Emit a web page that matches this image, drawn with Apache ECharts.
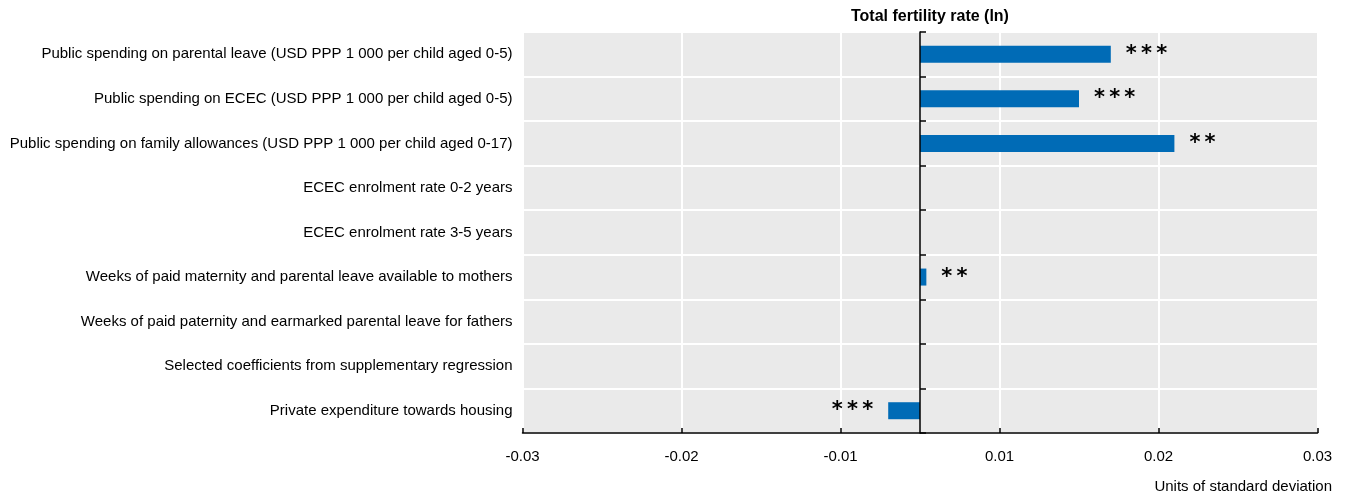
<!DOCTYPE html>
<html>
<head>
<meta charset="utf-8">
<script src="https://cdn.jsdelivr.net/npm/echarts@6/dist/echarts.min.js"></script>
<style>
  html, body { margin: 0; padding: 0; background: #fff; }
  #chart { width: 1349px; height: 498px; }
</style>
</head>
<body>
<div id="chart"></div>
<script>
// Policy indicators, top to bottom
const categories = [
  'Public spending on parental leave (USD PPP 1 000 per child aged 0-5)',
  'Public spending on ECEC (USD PPP 1 000 per child aged 0-5)',
  'Public spending on family allowances (USD PPP 1 000 per child aged 0-17)',
  'ECEC enrolment rate 0-2 years',
  'ECEC enrolment rate 3-5 years',
  'Weeks of paid maternity and parental leave available to mothers',
  'Weeks of paid paternity and earmarked parental leave for fathers',
  'Selected coefficients from supplementary regression',
  'Private expenditure towards housing'
];

// Standardised coefficients on total fertility rate (ln)
const coefficients = [0.012, 0.010, 0.016, null, null, 0.0004, null, null, -0.002];

// Significance markers
const significance = ['***', '***', '**', '', '', '**', '', '', '***'];

// Value-axis tick labels (two-decimal display)
const tickLabels = ['-0.03', '-0.02', '-0.01', '0.01', '0.02', '0.03'];

const FONT = '"Liberation Sans Narrow", "Arial Narrow", "Liberation Sans", Arial, sans-serif';

const valueScale = { type: 'value', min: -0.025, max: 0.025, interval: 0.01 };

const chart = echarts.init(document.getElementById('chart'), null, { renderer: 'canvas' });

chart.setOption({
  animation: false,
  backgroundColor: '#ffffff',
  textStyle: { fontFamily: FONT },
  title: {
    text: 'Total fertility rate (ln)',
    left: 846,
    top: 4,
    textStyle: { fontFamily: FONT, fontSize: 16, fontWeight: 'bold', color: '#000' }
  },
  graphic: [{
    type: 'text',
    right: 17,
    top: 479,
    style: { text: 'Units of standard deviation', font: '15px ' + FONT, fill: '#000' }
  }],
  grid: {
    left: 522.5,
    right: 31.5,
    top: 32,
    bottom: 65,
    show: true,
    backgroundColor: '#EAEAEA',
    borderWidth: 0,
    containLabel: false
  },
  xAxis: [
    Object.assign({}, valueScale, {
      position: 'bottom',
      axisLine: { show: true, onZero: false, lineStyle: { color: '#000', width: 1.5 } },
      axisTick: { show: false },
      splitLine: { show: true, lineStyle: { color: '#ffffff', width: 2 } },
      axisLabel: {
        fontFamily: FONT, fontSize: 15, color: '#000', margin: 16,
        formatter: (v, i) => tickLabels[i]
      }
    }),
    // tick marks drawn above the gridlines
    Object.assign({}, valueScale, {
      position: 'bottom',
      z: 10,
      axisLine: { show: false, onZero: false },
      axisTick: { show: true, inside: true, length: 5, lineStyle: { color: '#000', width: 1.5 } },
      splitLine: { show: false },
      axisLabel: { show: false }
    })
  ],
  yAxis: [
    {
      type: 'category',
      data: categories,
      inverse: true,
      position: 'left',
      axisLine: { show: false, onZero: false },
      axisTick: { show: false },
      splitLine: { show: true, lineStyle: { color: '#ffffff', width: 2 } },
      axisLabel: { fontFamily: FONT, fontSize: 15, color: '#000', margin: 10 }
    },
    {
      type: 'category',
      data: categories,
      inverse: true,
      position: 'left',
      z: 10,
      axisLine: { show: true, onZero: true, lineStyle: { color: '#000', width: 1.5 } },
      axisTick: { show: true, inside: true, length: 6, lineStyle: { color: '#000', width: 1.5 } },
      splitLine: { show: false },
      axisLabel: { show: false }
    }
  ],
  series: [{
    type: 'bar',
    xAxisIndex: 0,
    yAxisIndex: 0,
    data: coefficients.map(v => ({
      value: v,
      label: { position: v !== null && v < 0 ? 'left' : 'right' }
    })),
    barWidth: 17,
    itemStyle: { color: '#006BB6' },
    label: {
      show: true,
      distance: 15,
      fontFamily: '"DejaVu Sans", sans-serif',
      fontSize: 21,
      fontWeight: 'bold',
      color: '#000',
      formatter: p => significance[p.dataIndex].split('').join('\u2009')
    },
    z: 3
  }]
});
</script>
</body>
</html>
